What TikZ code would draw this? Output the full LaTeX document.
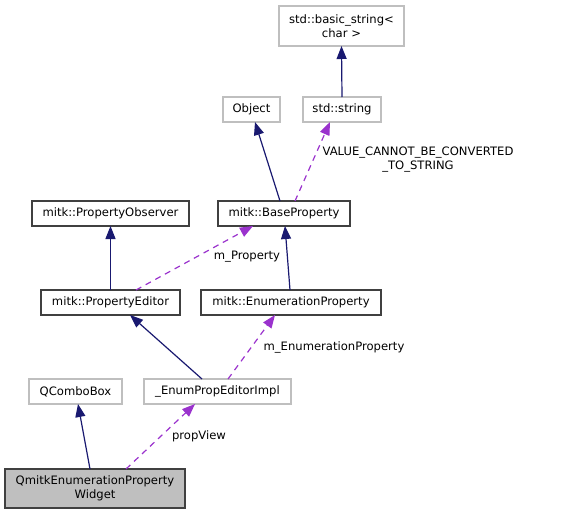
\documentclass[tikz,border=0pt]{standalone}
\usepackage{fontspec}
\setmainfont{DejaVu Sans}
\usetikzlibrary{arrows.meta}
\definecolor{edgeblue}{HTML}{191970}
\definecolor{edgepurple}{HTML}{9A32CD}
\definecolor{boxgray}{HTML}{BFBFBF}
\begin{document}
\begin{tikzpicture}[x=1pt,y=-1pt,inner sep=0pt,outer sep=0pt,
    font=\fontsize{11.6}{14}\selectfont,
    ext/.style={draw=boxgray,line width=1.2pt,fill=white,align=center},
    cls/.style={draw=black!75,line width=1.2pt,fill=white,align=center},
    inh/.style={draw=edgeblue,line width=1.2pt,-{Triangle[length=13pt,width=10pt]}},
    use/.style={draw=edgepurple,line width=1.2pt,dash pattern=on 6pt off 5pt,-{Triangle[length=13pt,width=10pt]}}]
    \useasboundingbox (0,0) rectangle (579,515);
    \node[ext, minimum width=125, minimum height=40] (bstr) at (341.5,26) {std::basic\_string<\\char >};
    \node[ext, minimum width=57, minimum height=25] (obj) at (251.5,109.5) {Object};
    \node[ext, minimum width=78, minimum height=25] (str) at (342,109.5) {std::string};
    \node[cls, minimum width=157, minimum height=25] (obs) at (110.5,213.5) {mitk::PropertyObserver};
    \node[cls, minimum width=132, minimum height=25] (base) at (284,213.5) {mitk::BaseProperty};
    \node[cls, minimum width=139, minimum height=25] (edit) at (110.5,302.5) {mitk::PropertyEditor};
    \node[cls, minimum width=180, minimum height=25] (enum) at (291,302.5) {mitk::EnumerationProperty};
    \node[ext, minimum width=93, minimum height=25] (qcb) at (75.5,391.5) {QComboBox};
    \node[ext, minimum width=147, minimum height=25] (impl) at (217.5,391.5) {\_EnumPropEditorImpl};
    \node[cls, fill=boxgray, minimum width=180, minimum height=39] (wid) at (95,488.5) {QmitkEnumerationProperty\\Widget};
    % edge labels
    \node[align=center] (lconv) at (418,160) {VALUE\_CANNOT\_BE\_CONVERTED\\\_TO\_STRING};
    \node (lprop) at (247,257) {m\_Property};
    \node (lenum) at (334,347) {m\_EnumerationProperty};
    \node (lview) at (199,436) {propView};
    \path%
      (str.north) edge [inh] (bstr.south)
      ([xshift=-4pt]base.north) edge [inh] ([xshift=3.5pt]obj.south)
      ([xshift=11pt]base.north) edge [use] ([xshift=-12pt]str.south)
      (edit.north) edge [inh] (obs.south)
      ([xshift=25.5pt]edit.north) edge [use] ([xshift=-31pt]base.south)
      ([xshift=-1pt]enum.north) edge [inh] ([xshift=1pt]base.south)
      ([xshift=-15.5pt]impl.north) edge [inh] ([xshift=19.5pt]edit.south)
      ([xshift=10.5pt]impl.north) edge [use] ([xshift=-16pt]enum.south)
      ([xshift=-5pt]wid.north) edge [inh] ([xshift=2.5pt]qcb.south)
      ([xshift=31pt]wid.north) edge [use] ([xshift=-22.5pt]impl.south);
\end{tikzpicture}
\end{document}
